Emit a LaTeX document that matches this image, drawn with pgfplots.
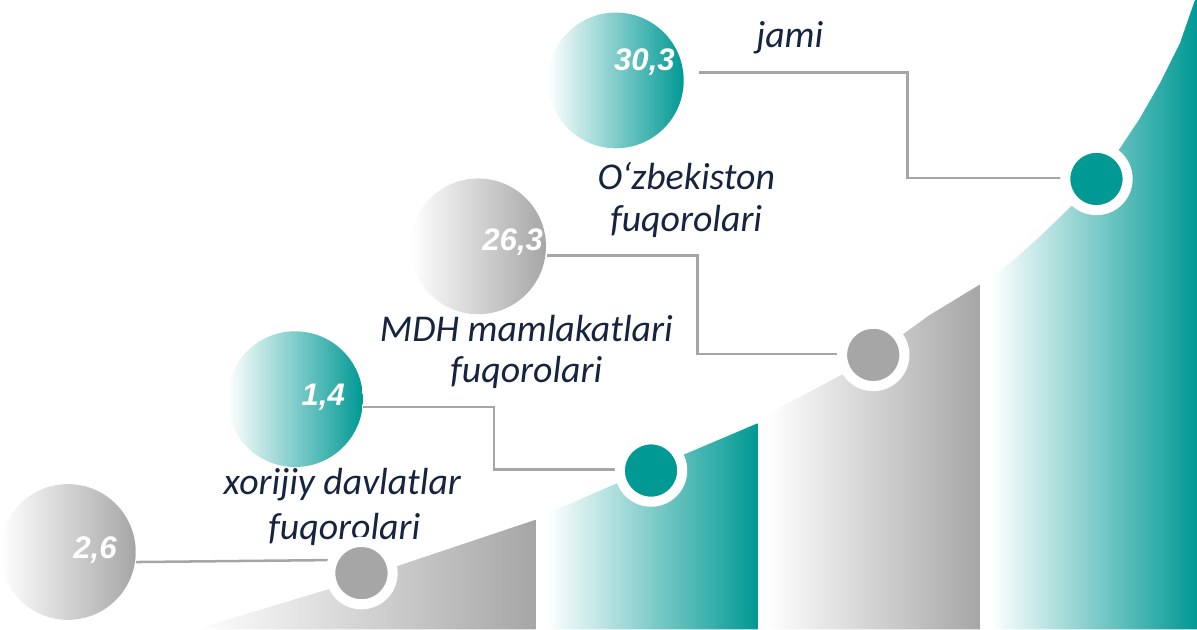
\documentclass[border=0pt]{standalone}
\usepackage{pgfplots}
\pgfplotsset{compat=1.18}
\usepackage{pgfplotstable}
\usepackage{fontspec}
\setmainfont{Carlito}
\newfontfamily\numfont{Liberation Sans}

\definecolor{tealc}{RGB}{0,153,148}
\definecolor{grayc}{RGB}{166,166,166}
\definecolor{navy}{RGB}{22,36,64}

\tikzset{labelstyle/.style={font=\fontsize{18.8}{23}\selectfont\itshape, text=navy, anchor=base, inner sep=0pt}}

% cx,cy = big circle, tx,ty = value label (base east), dx,dy = dot on curve
% positions in pixel units, y counted upwards
\pgfplotstableread{
cx  cy  tx  ty  dx   dy   val
74  77  123 71  366  56   2.6
482 381 547 377 875  273  26.3
}\graypts
\pgfplotstableread{
cx  cy  tx  ty  dx   dy   val
300 229 350 223 654  158  1.4
619 546 678 556 1097 448  30.3
}\tealpts

\begin{document}
\begin{tikzpicture}
\begin{axis}[
    width=598.5pt, height=313pt, scale only axis,
    xmin=0, xmax=1197, ymin=0, ymax=626,
    hide axis, clip=false,
    conn/.style={draw=grayc, line width=1.25pt, no marks},
    bigcirc/.style={only marks, mark=*, mark size=0pt, mark options={draw=none, fill=none},
        nodes near coords={}, nodes near coords align={center},
        every node near coord/.append style={circle, minimum size=67.5pt, inner sep=0pt, anchor=center}},
    numlab/.style={only marks, mark=*, mark size=0pt, mark options={draw=none, fill=none},
        point meta=\thisrow{val},
        nodes near coords={\pgfmathprintnumber[fixed, fixed zerofill, precision=1, use comma, assume math mode=true]{\pgfplotspointmeta}},
        nodes near coords align={center},
        every node near coord/.append style={anchor=base east, inner sep=0pt, text=white,
            font=\numfont\fontsize{15.5}{18}\selectfont\bfseries\itshape}},
]
% bands under the curve
\addplot[draw=none, left color=white, right color=grayc] coordinates {(200,0) (330,39) (539,109)} \closedcycle;
\addplot[draw=none, left color=white, right color=tealc] coordinates {(550,115) (654,160) (760,205)} \closedcycle;
\addplot[draw=none, left color=white, right color=grayc] coordinates {(768,213) (843,253) (875,272) (930,312) (981,343)} \closedcycle;
\addplot[draw=none, left color=white, right color=tealc] coordinates {(992,350) (1013,366) (1040,390) (1072,421) (1097,448) (1120,478) (1140,508) (1160,543) (1180,583) (1195,626) (1197,626)} \closedcycle;

% connectors
\addplot[conn] coordinates {(142,67) (340,69)};
\addplot[conn] coordinates {(368,221) (498,221) (498,159) (654,159)};
\addplot[conn] coordinates {(551,372) (700,372) (700,274) (875,274)};
\addplot[conn] coordinates {(702,554) (909,554) (909,449) (1097,449)};

% dots on the curve
\addplot[only marks, mark=*, mark size=15.5pt, mark options={fill=grayc, draw=white, line width=5pt}] table[x=dx, y=dy] {\graypts};
\addplot[only marks, mark=*, mark size=15.5pt, mark options={fill=tealc, draw=white, line width=5pt}] table[x=dx, y=dy] {\tealpts};

% big circles
\addplot[bigcirc, every node near coord/.append style={left color=white, right color=grayc}] table[x=cx, y=cy] {\graypts};
\addplot[bigcirc, every node near coord/.append style={left color=white, right color=tealc}] table[x=cx, y=cy] {\tealpts};

% values
\addplot[numlab] table[x=tx, y=ty] {\graypts};
\addplot[numlab] table[x=tx, y=ty] {\tealpts};

% labels
\node[labelstyle] at (axis cs:792,579) {jami};
\node[labelstyle] at (axis cs:689,438) {O‘zbekiston};
\node[labelstyle] at (axis cs:689,396) {fuqorolari};
\node[labelstyle] at (axis cs:530,286) {MDH mamlakatlari};
\node[labelstyle] at (axis cs:530,246) {fuqorolari};
\node[labelstyle] at (axis cs:347,134) {xorijiy davlatlar};
\node[labelstyle] at (axis cs:349,89) {fuqorolari};
\end{axis}
\end{tikzpicture}
\end{document}
